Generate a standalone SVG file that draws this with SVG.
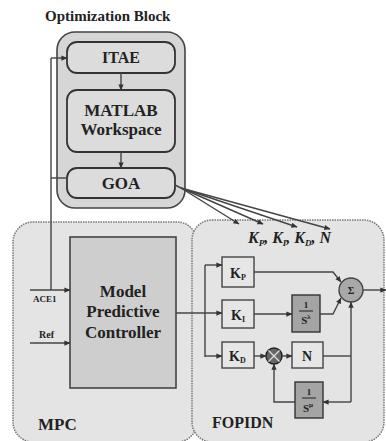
<svg xmlns="http://www.w3.org/2000/svg" width="386" height="441" viewBox="0 0 386 441" font-family="'Liberation Serif', 'DejaVu Serif', serif">
<defs>
<marker id="ah" viewBox="0 0 8 8" refX="7.5" refY="4" markerWidth="6" markerHeight="6" orient="auto" markerUnits="userSpaceOnUse">
<path d="M0,0.5 L8,4 L0,7.5 Z" fill="#333"/>
</marker>
</defs>
<style>
text{font-family:'Liberation Serif','DejaVu Serif',serif;font-weight:bold;fill:#222;}
.c{text-anchor:middle;}
.ln{fill:none;stroke:#444;stroke-width:1.4;}
.ar{fill:none;stroke:#444;stroke-width:1.4;marker-end:url(#ah);}
.outer{fill:#e4e4e4;stroke:#777;stroke-width:1.5;stroke-dasharray:1.5 1;}
.rb{fill:#dcdcdc;stroke:#333;stroke-width:1.8;}
.sb{fill:#e6e6e6;stroke:#444;stroke-width:1.4;}
.db{fill:#a4a4a4;stroke:#333;stroke-width:1.4;}
</style>
<rect width="386" height="441" fill="#ffffff"/>

<g id="mpc-area">
<rect class="outer" x="13" y="222" width="184" height="220" rx="20"/>
<text x="38" y="430" font-size="17">MPC</text>
</g>
<g id="fopidn-area">
<rect class="outer" x="192" y="220" width="192" height="222" rx="20"/>
<text x="212" y="428" font-size="16">FOPIDN</text>
</g>

<g id="optimization-block">
<text x="45" y="21" font-size="15">Optimization Block</text>
<rect x="57" y="32" width="128" height="176" rx="18" fill="#d6d6d6" stroke="#444" stroke-width="1.6"/>
</g>

<g id="itae">
<rect class="rb" x="67" y="42" width="108" height="31" rx="10"/>
<text class="c" x="121" y="63" font-size="16">ITAE</text>
</g>
<g id="matlab">
<rect class="rb" x="67" y="90" width="108" height="62" rx="10"/>
<text class="c" x="121" y="116" font-size="17">MATLAB</text>
<text class="c" x="121" y="135" font-size="17">Workspace</text>
</g>
<g id="goa">
<rect class="rb" x="67" y="168" width="108" height="30" rx="10"/>
<text class="c" x="121" y="189" font-size="17">GOA</text>
</g>

<g id="gains-label">
<text x="248" y="243" font-size="16" font-style="italic">K<tspan font-size="9" dy="3">P</tspan><tspan dy="-3">, K</tspan><tspan font-size="9" dy="3">I</tspan><tspan dy="-3">, K</tspan><tspan font-size="9" dy="3">D</tspan><tspan dy="-3">, N</tspan></text>
</g>

<g id="mpc-controller">
<rect x="70" y="237" width="106" height="151" fill="#cecece" stroke="#444" stroke-width="1.6"/>
<text class="c" x="123" y="297" font-size="17">Model</text>
<text class="c" x="123" y="317" font-size="17">Predictive</text>
<text class="c" x="123" y="338" font-size="17">Controller</text>
</g>

<g id="ace1-label"><text x="33" y="302" font-size="9">ACE1</text></g>
<g id="ref-label"><text x="39" y="338" font-size="10">Ref</text></g>

<g id="kp">
<rect class="sb" x="222" y="257" width="32" height="30"/>
<text x="230" y="278" font-size="14">K<tspan font-size="8" dy="2">P</tspan></text>
</g>
<g id="ki">
<rect class="sb" x="222" y="300" width="32" height="28"/>
<text x="231" y="320" font-size="14">K<tspan font-size="8" dy="2">I</tspan></text>
</g>
<g id="kd">
<rect class="sb" x="222" y="342" width="32" height="26"/>
<text x="229" y="361" font-size="14">K<tspan font-size="8" dy="2">D</tspan></text>
</g>
<g id="frac-int">
<rect class="db" x="292" y="295" width="28" height="37"/>
<text class="c" x="306" y="308" font-size="9">1</text>
<line x1="299" y1="311" x2="313" y2="311" stroke="#222" stroke-width="1"/>
<text class="c" x="306" y="324" font-size="11">S<tspan font-size="7" dy="-5">λ</tspan></text>
</g>
<g id="n-block">
<rect class="sb" x="292" y="342" width="31" height="26"/>
<text class="c" x="307" y="361" font-size="14">N</text>
</g>
<g id="frac-der">
<rect class="db" x="295" y="382" width="28" height="36"/>
<text class="c" x="309" y="395" font-size="9">1</text>
<line x1="302" y1="398" x2="316" y2="398" stroke="#222" stroke-width="1"/>
<text class="c" x="308" y="412" font-size="11">S<tspan font-size="7" dy="-5">μ</tspan></text>
</g>
<g id="sum">
<circle cx="351" cy="290" r="12" fill="#a8a8a8" stroke="#444" stroke-width="1.4"/>
<text class="c" x="351" y="294" font-size="10">Σ</text>
</g>
<g id="mult">
<circle cx="274" cy="356" r="8" fill="#666" stroke="#222" stroke-width="1.4"/>
<path d="M268.5,350.5 L279.5,361.5 M279.5,350.5 L268.5,361.5" stroke="#ddd" stroke-width="1.3"/>
</g>

<g id="connectors">
<path class="ar" d="M121,73 L121,90"/>
<path class="ar" d="M121,152 L121,168"/>
<path class="ln" d="M51,58 L51,290"/>
<path class="ar" d="M51,58 L67,58"/>
<path class="ln" d="M51,178 L67,178"/>
<path class="ar" d="M30,290 L70,290"/>
<path class="ar" d="M30,343 L70,343"/>
<path class="ln" d="M175,185 L181,188"/>
<path class="ar" d="M181,188 L239,224"/>
<path class="ar" d="M181,188 L263,224"/>
<path class="ar" d="M181,188 L297,227"/>
<path class="ar" d="M181,188 L330,229"/>
<path class="ar" d="M176,313 L222,313"/>
<path class="ln" d="M205,265 L205,357"/>
<path class="ar" d="M205,265 L222,265"/>
<path class="ar" d="M205,356 L222,356"/>
<path class="ar" d="M254,272 L333,272 L341,282"/>
<path class="ar" d="M254,314 L292,314"/>
<path class="ar" d="M320,314 L333,314 L341,298"/>
<path class="ar" d="M363,290 L386,290"/>
<path class="ar" d="M254,356 L266,356"/>
<path class="ar" d="M282,356 L292,356"/>
<path class="ln" d="M323,356 L351,356"/>
<path class="ar" d="M351,402 L351,302"/>
<path class="ar" d="M351,402 L323,402"/>
<path class="ar" d="M295,402 L274,402 L274,364"/>
</g>
</svg>
